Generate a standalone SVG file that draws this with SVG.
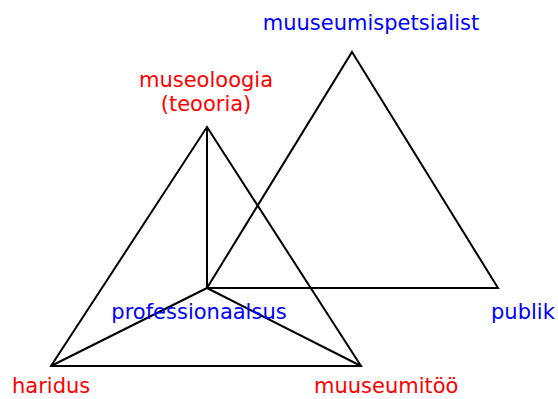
<svg xmlns="http://www.w3.org/2000/svg" width="558" height="399" viewBox="0 0 558 399">
<style>
.ln{stroke:#000;stroke-width:2;fill:none;stroke-linejoin:miter}
.t{font-family:"DejaVu Sans",Verdana,sans-serif;font-size:21px}
.b{fill:#0000ff}
.r{fill:#ff0000}
</style>
<rect width="558" height="399" fill="#fff"/>
<g id="connectors">
<path class="ln" d="M352,52 L498,288 L207,288 Z"/>
<path class="ln" d="M207,127 L361,366 L51,366 Z"/>
<path class="ln" d="M207,127 L207,288 M207,288 L51,366 M207,288 L361,366"/>
</g>
<g id="muuseumispetsialist"><text class="t b" x="371" y="30" text-anchor="middle">muuseumispetsialist</text></g>
<g id="museoloogia"><text class="t r" x="206" y="87" text-anchor="middle">museoloogia</text><text class="t r" x="206" y="111" text-anchor="middle">(teooria)</text></g>
<g id="professionaalsus"><text class="t b" x="199" y="319" text-anchor="middle">professionaalsus</text></g>
<g id="publik"><text class="t b" x="491" y="319">publik</text></g>
<g id="haridus"><text class="t r" x="12" y="393">haridus</text></g>
<g id="muuseumitoo"><text class="t r" x="314" y="393">muuseumitöö</text></g>
</svg>
